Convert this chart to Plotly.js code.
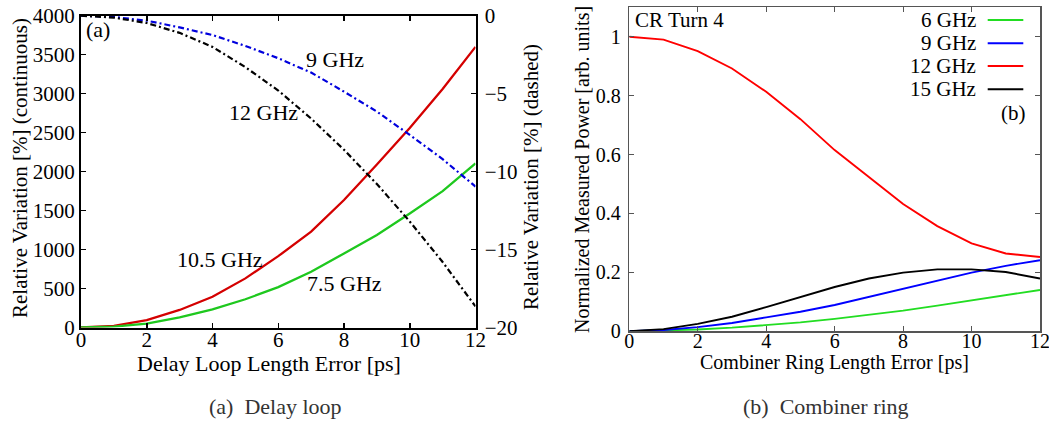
<!DOCTYPE html>
<html>
<head>
<meta charset="utf-8">
<script src="https://cdn.plot.ly/plotly-3.0.1.min.js"></script>
<style>
  html, body { margin: 0; padding: 0; background: #fff; }
  #chart { width: 1049px; height: 423px; }
</style>
</head>
<body>
<div id="chart"></div>
<script>
// ---- (a) Delay loop: length error vs relative variation ----
const delayErrorPs = [0, 1, 2, 3, 4, 5, 6, 7, 8, 9, 10, 11, 12];
// continuous curves (left axis, %)
const dl7p5GHz  = [0, 12, 50, 130, 233, 362, 518, 716, 950, 1187, 1462, 1750, 2105];
const dl10p5GHz = [0, 20, 96, 225, 395, 630, 915, 1230, 1635, 2090, 2560, 3060, 3600];
// dashed curves (right axis, %)
const dl9GHz  = [0, -0.08, -0.32, -0.75, -1.24, -1.94, -2.73, -3.65, -4.87, -6.15, -7.65, -9.2, -10.96];
const dl12GHz = [0, -0.12, -0.47, -1.1, -2.0, -3.3, -4.8, -6.6, -8.6, -10.8, -13.2, -15.8, -18.65];

// ---- (b) Combiner ring: length error vs normalized measured power ----
const ringErrorPs = [0, 1, 2, 3, 4, 5, 6, 7, 8, 9, 10, 11, 12];
const ringNames  = ['6 GHz', '9 GHz', '12 GHz', '15 GHz'];
const cr6GHz  = [0, 0.002, 0.006, 0.012, 0.02, 0.03, 0.042, 0.056, 0.07, 0.087, 0.104, 0.121, 0.14];
const cr9GHz  = [0, 0.004, 0.014, 0.028, 0.047, 0.066, 0.089, 0.117, 0.145, 0.173, 0.199, 0.222, 0.241];
const cr12GHz = [1.0, 0.99, 0.951, 0.892, 0.813, 0.72, 0.615, 0.522, 0.432, 0.357, 0.298, 0.264, 0.252];
const cr15GHz = [0, 0.007, 0.025, 0.049, 0.082, 0.117, 0.150, 0.179, 0.199, 0.21, 0.21, 0.201, 0.179];

const W = 1049, H = 423;
const px = v => v / W;
const py = v => 1 - v / H;
const SERIF = 'Liberation Serif, serif';
const dashDot = '6px,3px,2px,3px';

const ringColors = ['#22dd22', '#0000ff', '#ff0000', '#000000'];
const ringSeries = [cr6GHz, cr9GHz, cr12GHz, cr15GHz];

const traces = [
  { x: delayErrorPs, y: dl10p5GHz, xaxis: 'x', yaxis: 'y', mode: 'lines',
    line: { color: '#d40000', width: 2.3 }, name: '10.5 GHz' },
  { x: delayErrorPs, y: dl7p5GHz, xaxis: 'x', yaxis: 'y', mode: 'lines',
    line: { color: '#1ec81e', width: 2.3 }, name: '7.5 GHz' },
  { x: delayErrorPs, y: dl9GHz, xaxis: 'x', yaxis: 'y2', mode: 'lines',
    line: { color: '#0000dd', width: 2.2, dash: dashDot }, name: '9 GHz' },
  { x: delayErrorPs, y: dl12GHz, xaxis: 'x', yaxis: 'y2', mode: 'lines',
    line: { color: '#000000', width: 2.2, dash: dashDot }, name: '12 GHz' }
];
ringSeries.forEach((s, i) => {
  traces.push({ x: ringErrorPs, y: s, xaxis: 'x2', yaxis: 'y3', mode: 'lines',
    line: { color: ringColors[i], width: 1.9 }, name: ringNames[i] });
});

const leftTick = { family: SERIF, size: 21, color: '#000' };
const rightTick = { family: SERIF, size: 20, color: '#000' };
const frameA = '#000';
const frameB = '#555';

const layout = {
  width: W, height: H,
  margin: { l: 0, r: 0, t: 0, b: 0 },
  paper_bgcolor: '#fff', plot_bgcolor: '#fff',
  showlegend: false,
  font: { family: SERIF, color: '#000' },
  xaxis: {
    domain: [px(81), px(475.5)], range: [0, 12], anchor: 'y',
    tickvals: [0, 2, 4, 6, 8, 10, 12], ticks: 'inside', ticklen: 5, tickwidth: 1.5,
    tickcolor: frameA, showline: true, linecolor: frameA, linewidth: 2, mirror: 'ticks',
    showgrid: false, zeroline: false, tickfont: leftTick, ticklabelstandoff: -8,
    ticklabeloverflow: 'allow'
  },
  yaxis: {
    domain: [py(327.5), py(15.7)], range: [0, 4000], anchor: 'x',
    tickvals: [0, 500, 1000, 1500, 2000, 2500, 3000, 3500, 4000],
    ticks: 'inside', ticklen: 5, tickwidth: 1.5, tickcolor: frameA,
    showline: true, linecolor: frameA, linewidth: 2,
    showgrid: false, zeroline: false, tickfont: leftTick, ticklabelstandoff: 0
  },
  yaxis2: {
    overlaying: 'y', side: 'right', anchor: 'x', range: [-20, 0],
    tickvals: [-20, -15, -10, -5, 0],
    ticks: 'inside', ticklen: 5, tickwidth: 1.5, tickcolor: frameA,
    showline: true, linecolor: frameA, linewidth: 2,
    showgrid: false, zeroline: false, tickfont: leftTick, ticklabelstandoff: 3
  },
  xaxis2: {
    domain: [px(629.3), px(1040)], range: [0, 12], anchor: 'y3',
    tickvals: [0, 2, 4, 6, 8, 10, 12], ticks: 'inside', ticklen: 5, tickwidth: 1,
    tickcolor: frameB, showline: true, linecolor: frameB, linewidth: 1.5, mirror: 'ticks',
    showgrid: false, zeroline: false, tickfont: rightTick, ticklabelstandoff: -9,
    ticklabeloverflow: 'allow'
  },
  yaxis3: {
    domain: [py(331.2), py(331.2 - 1.1 * 294.5)], range: [0, 1.1], anchor: 'x2',
    tickvals: [0, 0.2, 0.4, 0.6, 0.8, 1], ticktext: ['0', '0.2', '0.4', '0.6', '0.8', '1'],
    ticks: 'inside', ticklen: 5, tickwidth: 1, tickcolor: frameB,
    showline: true, linecolor: frameB, linewidth: 1.5, mirror: 'ticks',
    showgrid: false, zeroline: false, tickfont: rightTick, ticklabelstandoff: 3
  },
  annotations: [],
  shapes: []
};

const ann = (text, x, y, opts) => Object.assign({
  text, x, y, xref: 'paper', yref: 'paper', showarrow: false,
  xanchor: 'center', yanchor: 'middle',
  font: { family: SERIF, size: 22, color: '#000' }
}, opts || {});

// axis titles
layout.annotations.push(
  ann('Delay Loop Length Error [ps]', px(269), py(363)),
  ann('Relative Variation [%] (continuous)', px(20), py(168), { textangle: -90, font: { family: SERIF, size: 21, color: '#000' } }),
  ann('Relative Variation [%] (dashed)', px(531), py(177), { textangle: -90, font: { family: SERIF, size: 21, color: '#000' } }),
  ann('Combiner Ring Length Error [ps]', px(834), py(362), { font: { family: SERIF, size: 20, color: '#000' } }),
  ann('Normalized Measured Power [arb. units]', px(582), py(170), { textangle: -90, font: { family: SERIF, size: 20, color: '#000' } }),
  // sub-captions
  ann('(a)  Delay loop', px(275), py(406), { font: { family: SERIF, size: 22, color: '#333' } }),
  ann('(b)  Combiner ring', px(825.5), py(406), { font: { family: SERIF, size: 22, color: '#333' } })
);

// curve labels inside panel (a)
const dataAnn = (text, x, y, yref, opts) => Object.assign({
  text, x, y, xref: 'x', yref, showarrow: false, xanchor: 'center', yanchor: 'middle',
  font: { family: SERIF, size: 22, color: '#000' }
}, opts || {});
layout.annotations.push(
  dataAnn('9 GHz', 7.74, 3432, 'y'),
  dataAnn('12 GHz', 5.56, 2760, 'y'),
  dataAnn('10.5 GHz', 4.23, 875, 'y'),
  dataAnn('7.5 GHz', 8.0, 567, 'y'),
  dataAnn('(a)', 0.1, 3825, 'y', { xanchor: 'left' })
);

// panel (b) labels
layout.annotations.push(
  { text: 'CR Turn 4', x: 0.11, y: 1.056, xref: 'x2', yref: 'y3', showarrow: false,
    xanchor: 'left', yanchor: 'middle', font: { family: SERIF, size: 21, color: '#000' } },
  { text: '(b)', x: 11.66, y: 0.74, xref: 'x2', yref: 'y3', showarrow: false,
    xanchor: 'right', yanchor: 'middle', font: { family: SERIF, size: 21, color: '#000' } }
);

// key for panel (b): label on the left, line sample on the right
const keyRows = [20, 43.3, 66, 89.3];
ringNames.forEach((name, i) => {
  layout.annotations.push(ann(name, px(978), py(keyRows[i]),
    { xanchor: 'right', font: { family: SERIF, size: 21, color: '#000' } }));
  layout.shapes.push({ type: 'line', xref: 'paper', yref: 'paper',
    x0: px(987.7), x1: px(1023.3), y0: py(keyRows[i]), y1: py(keyRows[i]),
    line: { color: ringColors[i], width: 1.9 } });
});

Plotly.newPlot('chart', traces, layout, { staticPlot: true, displayModeBar: false });
</script>
</body>
</html>
